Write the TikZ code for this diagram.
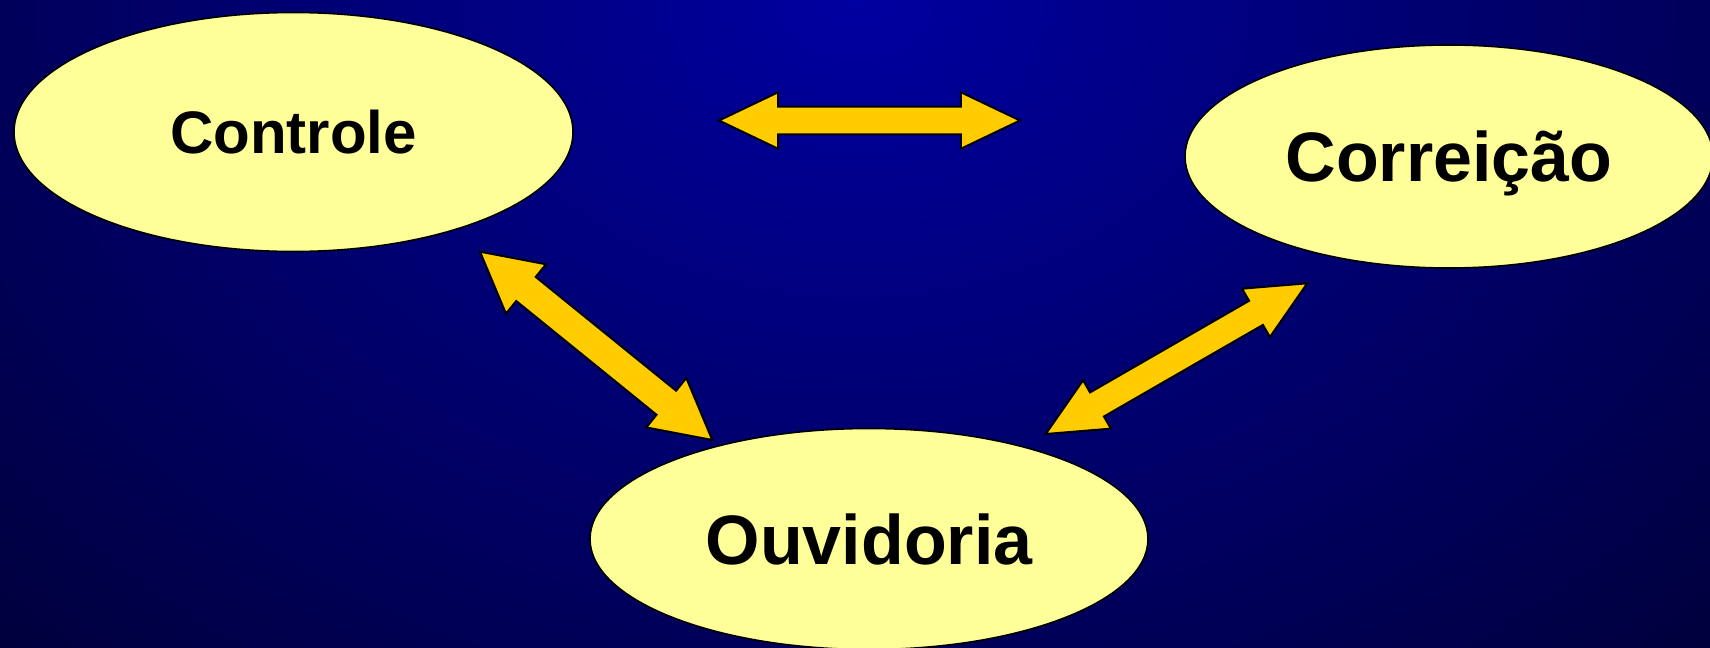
\documentclass[tikz,border=0pt]{standalone}
\usepackage{fontspec}
\setmainfont{Liberation Sans}
\usetikzlibrary{shapes.geometric,calc}

\definecolor{bgtop}{RGB}{0,0,160}
\definecolor{bgedge}{RGB}{0,0,58}
\definecolor{pale}{RGB}{255,255,153}
\definecolor{gold}{RGB}{255,204,0}

\tikzset{
  area/.style={ellipse, draw=black, line width=0.8pt, fill=pale, inner sep=0pt},
  arrowbody/.style={draw=black, line width=1pt, fill=gold, line join=miter},
}

% block arrow with two heads, tip #1 to tip #2, half shaft #3, half head #4
\newcommand{\dblarrow}[4]{%
  \draw[arrowbody] (#1)
    -- ($(#1)!29.6pt!(#2)!#4!90:(#2)$)
    -- ($(#1)!29.6pt!(#2)!#3!90:(#2)$)
    -- ($(#2)!29.6pt!(#1)!#3!-90:(#1)$)
    -- ($(#2)!29.6pt!(#1)!#4!-90:(#1)$)
    -- (#2)
    -- ($(#2)!29.6pt!(#1)!#4!90:(#1)$)
    -- ($(#2)!29.6pt!(#1)!#3!90:(#1)$)
    -- ($(#1)!29.6pt!(#2)!#3!-90:(#2)$)
    -- ($(#1)!29.6pt!(#2)!#4!-90:(#2)$)
    -- cycle;}

\begin{document}
\begin{tikzpicture}[x=0.5pt, y=-0.5pt]
	\useasboundingbox (0,0) rectangle (1710,648);
	\begin{scope}
		\clip (0,0) rectangle (1710,648);
		\fill[bgedge] (0,0) rectangle (1710,648);
		\shade[inner color=bgtop, outer color=bgedge] (855,0) ellipse [x radius=620pt, y radius=470pt];
	\end{scope}

	\node[area, minimum width=279.5pt, minimum height=119.5pt,
		font=\bfseries\fontsize{30}{36}\selectfont, text height=21.5pt, text depth=0pt]
		(ctrl) at (293.5,132) {Controle};
	\node[area, minimum width=264pt, minimum height=111.5pt,
		font=\bfseries\fontsize{35}{42}\selectfont, text height=25pt, text depth=0pt]
		(corr) at (1449,156.5) {Correição};
	\node[area, minimum width=279pt, minimum height=110.5pt,
		font=\bfseries\fontsize{35}{42}\selectfont, text height=25pt, text depth=0pt]
		(ouv) at (869,539) {Ouvidoria};

	% arrow tips
	\coordinate (ctrl-corr a) at (719,120.5);
	\coordinate (ctrl-corr b) at (1020,120.5);
	\coordinate (ctrl-ouv a)  at (480,251.7);
	\coordinate (ctrl-ouv b)  at (712.3,440);
	\coordinate (corr-ouv a)  at (1307.3,283.3);
	\coordinate (corr-ouv b)  at (1045.7,434);

	\dblarrow{ctrl-corr a}{ctrl-corr b}{6.9pt}{14.15pt}
	\dblarrow{ctrl-ouv a}{ctrl-ouv b}{7.75pt}{15.9pt}
	\dblarrow{corr-ouv a}{corr-ouv b}{6.95pt}{13.95pt}
\end{tikzpicture}
\end{document}
